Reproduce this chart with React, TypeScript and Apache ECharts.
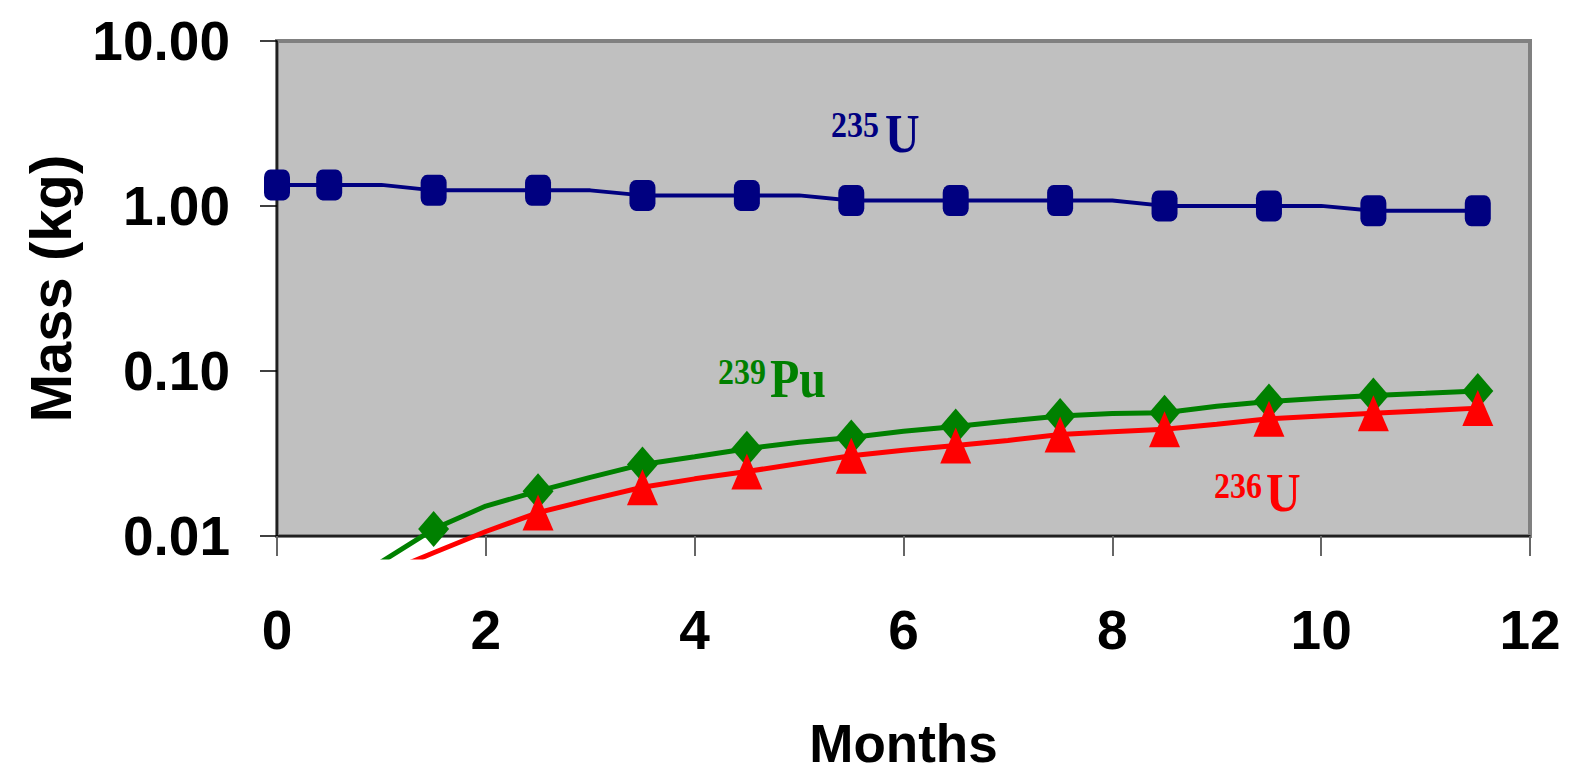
import React, { useEffect, useRef } from "react";
import * as echarts from "echarts";

// Time axis (months); every half month has a computed mass.
const MONTHS = [0, 0.5, 1, 1.5, 2, 2.5, 3, 3.5, 4, 4.5, 5, 5.5, 6, 6.5, 7, 7.5, 8, 8.5, 9, 9.5, 10, 10.5, 11, 11.5];
// Months that carry a marker symbol.
const MARKED_MONTHS = [0, 0.5, 1.5, 2.5, 3.5, 4.5, 5.5, 6.5, 7.5, 8.5, 9.5, 10.5, 11.5];

// Masses in kg (null = not yet produced).
const U235 = [1.37, 1.37, 1.37, 1.27, 1.27, 1.27, 1.27, 1.185, 1.185, 1.185, 1.185, 1.105, 1.105, 1.105, 1.105, 1.105, 1.105, 1.025, 1.025, 1.025, 1.025, 0.957, 0.957, 0.957];
const PU239 = [null, null, 0.0075, 0.0118, 0.0162, 0.0199, 0.0241, 0.0288, 0.032, 0.0358, 0.0391, 0.0418, 0.0455, 0.0487, 0.0524, 0.0562, 0.0583, 0.0588, 0.0643, 0.0687, 0.0718, 0.0746, 0.0769, 0.0794];
const U236 = [null, null, 0.0063, 0.0085, 0.0114, 0.0148, 0.0177, 0.021, 0.0236, 0.0261, 0.0292, 0.0325, 0.035, 0.0374, 0.0401, 0.0435, 0.0452, 0.0468, 0.0501, 0.0541, 0.0563, 0.0585, 0.0605, 0.0627];

const X_MIN = 0;
const X_MAX = 12;
const X_STEP = 2;
const Y_MIN = 0.01;
const Y_MAX = 10;

const SANS = '"Liberation Sans Narrow", "Arial Narrow", "Liberation Sans", Arial, sans-serif';
const SERIF = '"Liberation Serif", "Times New Roman", serif';

// Plot rectangle and the strip below it where curves may still run.
const PLOT = { left: 277, top: 41, width: 1253, height: 500 };
const OVERHANG = 16;

function seriesData(values: (number | null)[], symbol: string) {
  const out: any[] = [];
  MONTHS.forEach((m, i) => {
    const v = values[i];
    if (v == null) return;
    const marked = MARKED_MONTHS.includes(m) && v >= Y_MIN;
    out.push({ value: [m, v], symbol: marked ? symbol : "none" });
  });
  return out;
}

function isotopeLabel(mass: string, elem: string, color: string, x: number, y: number, supX: number, supY: number) {
  return [
    {
      type: "text",
      x: supX,
      y: supY,
      scaleY: 1.15,
      style: { text: mass, fill: color, font: `bold 32px ${SERIF}`, verticalAlign: "middle", align: "left" },
    },
    {
      type: "text",
      x,
      y,
      scaleY: 1.15,
      style: { text: elem, fill: color, font: `bold 48px ${SERIF}`, verticalAlign: "middle", align: "left" },
    },
  ];
}

export default function App() {
  const ref = useRef<HTMLDivElement>(null);

  useEffect(() => {
    if (!ref.current) return;
    const chart = echarts.init(ref.current, undefined, { renderer: "svg" });

    const decadePx = PLOT.height / Math.log10(Y_MAX / Y_MIN);
    const curveMin = Y_MAX / Math.pow(10, (PLOT.height + OVERHANG) / decadePx);

    const labelFont = { fontFamily: SANS, fontWeight: "bold" as const, fontSize: 55, color: "#000" };

    chart.setOption({
      animation: false,
      backgroundColor: "#fff",
      grid: [
        {
          left: PLOT.left,
          top: PLOT.top,
          width: PLOT.width,
          height: PLOT.height,
          show: true,
          backgroundColor: "#c0c0c0",
          borderColor: "#808080",
          borderWidth: 4,
        },
        {
          left: PLOT.left,
          top: PLOT.top,
          width: PLOT.width,
          height: PLOT.height + OVERHANG,
          show: false,
        },
      ],
      xAxis: [
        {
          gridIndex: 0,
          type: "value",
          min: X_MIN,
          max: X_MAX,
          interval: X_STEP,
          axisLine: { show: true, lineStyle: { color: "#000", width: 1.5 } },
          axisTick: { show: true, length: 20, lineStyle: { color: "#666", width: 2 } },
          splitLine: { show: false },
          axisLabel: { ...labelFont, margin: 66 },
          name: "Months",
          nameLocation: "middle",
          nameGap: 181,
          nameTextStyle: { ...labelFont, fontSize: 53 },
        },
        { gridIndex: 1, type: "value", min: X_MIN, max: X_MAX, show: false },
      ],
      yAxis: [
        {
          gridIndex: 0,
          type: "log",
          logBase: 10,
          min: Y_MIN,
          max: Y_MAX,
          axisLine: { show: true, lineStyle: { color: "#000", width: 1.5 } },
          axisTick: { show: true, length: 17, lineStyle: { color: "#000", width: 1.5 } },
          minorTick: { show: false },
          splitLine: { show: false },
          axisLabel: { ...labelFont, margin: 47, formatter: (v: number) => v.toFixed(2) },
          name: "Mass (kg)",
          nameLocation: "middle",
          nameRotate: 90,
          nameGap: 198,
          nameTextStyle: { ...labelFont, fontSize: 58 },
        },
        { gridIndex: 1, type: "log", logBase: 10, min: curveMin, max: Y_MAX, show: false },
      ],
      series: [
        {
          name: "235U",
          type: "line",
          xAxisIndex: 1,
          yAxisIndex: 1,
          clip: true,
          data: seriesData(U235, "roundRect"),
          symbolSize: [26, 31],
          lineStyle: { color: "#000080", width: 4 },
          itemStyle: { color: "#000080", borderWidth: 0 },
          z: 3,
        },
        {
          name: "239Pu",
          type: "line",
          xAxisIndex: 1,
          yAxisIndex: 1,
          clip: true,
          data: seriesData(PU239, "diamond"),
          symbolSize: [31, 36],
          lineStyle: { color: "#008000", width: 5 },
          itemStyle: { color: "#008000", borderWidth: 0 },
          z: 3,
        },
        {
          name: "236U",
          type: "line",
          xAxisIndex: 1,
          yAxisIndex: 1,
          clip: true,
          data: seriesData(U236, "triangle"),
          symbolSize: [31, 36],
          lineStyle: { color: "#ff0000", width: 5 },
          itemStyle: { color: "#ff0000", borderWidth: 0 },
          z: 4,
        },
      ],
      graphic: [
        ...isotopeLabel("235", "U", "#000080", 885, 133, 831, 124),
        ...isotopeLabel("239", "Pu", "#008000", 770, 378, 718, 371),
        ...isotopeLabel("236", "U", "#ff0000", 1266, 492, 1214, 485),
      ],
    });

    return () => chart.dispose();
  }, []);

  return (
    <div
      ref={ref}
      style={{ position: "fixed", left: 0, top: 0, width: "1569px", height: "775px", background: "#fff" }}
    />
  );
}
